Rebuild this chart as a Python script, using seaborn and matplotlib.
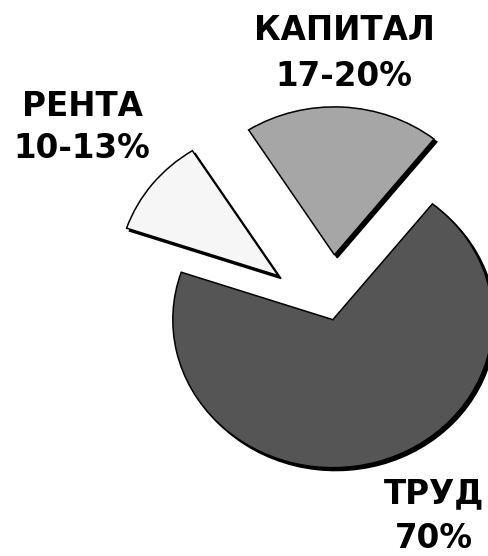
import matplotlib
matplotlib.use("Agg")
import matplotlib.pyplot as plt
import seaborn as sns

# data
labels = ["КАПИТАЛ", "РЕНТА", "ТРУД"]
shares = ["17-20%", "10-13%", "70%"]
values = [19.7, 10.8, 69.5]
colors = ["#a6a6a6", "#f6f6f6", "#555555"]
explode = [0.40, 0.42, 0.04]

sns.set_theme(style="white")
plt.rcParams["font.family"] = ["DejaVu Sans"]

fig = plt.figure(figsize=(4.88, 5.56), dpi=100)
ax = fig.add_axes([0, 0, 1, 1])

# shadow offset is scaled by dpi/72 and applied in data units
ax.pie(values, colors=colors, explode=explode, startangle=51.5,
       counterclock=True,
       wedgeprops=dict(edgecolor="black", linewidth=1.1),
       shadow=dict(ox=0.013, oy=-0.014, facecolor="black",
                   edgecolor="black", alpha=1))

# pie is a bit flattened in the original
ax.set_aspect("auto")
ax.set_xlim(-331 / 160, (488 - 331) / 160)
ax.set_ylim(-(556 - 314) / 148, 314 / 148)
ax.axis("off")

# labels
pos = [(344, 30, 76), (82, 107, 148), (434, 494, 539)]
for lab, sh, (x, y1, y2) in zip(labels, shares, pos):
    fig.text(x / 488, 1 - y1 / 556, lab, ha="center", va="center",
             fontsize=23.5, fontweight="bold", color="black")
    fig.text(x / 488, 1 - y2 / 556, sh, ha="center", va="center",
             fontsize=23.5, fontweight="bold", color="black")

fig.savefig("out.png", dpi=100)
